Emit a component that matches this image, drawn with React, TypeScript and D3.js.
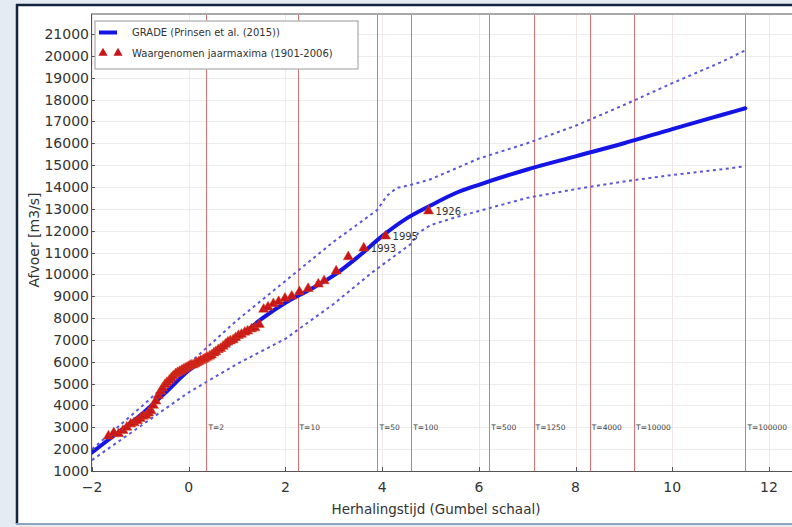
import React from "react";
import * as d3 from "d3";

// ---- Data ----
// GRADE curve (Gumbel reduced variate, discharge m3/s)
const gradeX = [-2, -1.5, -1, -0.5, 0, 0.5, 1, 1.5, 2, 2.5, 3, 3.5, 4, 4.5, 5, 5.5, 6, 7, 8, 9, 10, 11, 11.51];
const gradeY = [1850, 2700, 3550, 4550, 5600, 6350, 7050, 7950, 8700, 9300, 9950, 10800, 11750, 12550, 13150, 13700, 14100, 14800, 15400, 16000, 16650, 17280, 17600];
// Upper confidence bound
const upperX = [-2, -1, 0, 1, 2, 3, 3.5, 3.9, 4.1, 4.3, 4.6, 5, 6, 7, 8, 9, 10, 11, 11.51];
const upperY = [2000, 3900, 5900, 7900, 9700, 11500, 12300, 12950, 13600, 13950, 14100, 14350, 15300, 16000, 16800, 17750, 18750, 19700, 20250];
// Lower confidence bound
const lowerX = [-2, -1, 0, 0.5, 1, 2, 3, 3.8, 4.2, 4.6, 4.75, 5, 5.5, 6, 7, 8, 9, 10, 11, 11.51];
const lowerY = [1500, 3050, 4600, 5250, 5900, 7050, 8650, 10100, 10750, 11400, 11900, 12250, 12600, 12900, 13500, 13900, 14250, 14550, 14800, 14950];
// Observed annual maxima (1901-2006)
const obsX = [-1.66, -1.55, -1.45, -1.36, -1.28, -1.2, -1.13, -1.06, -1.0, -0.94, -0.88, -0.83, -0.78, -0.73, -0.68, -0.63, -0.58, -0.54, -0.49, -0.45, -0.4, -0.36, -0.32, -0.27, -0.23, -0.19, -0.15, -0.11, -0.07, -0.03, 0.01, 0.05, 0.09, 0.13, 0.17, 0.21, 0.25, 0.3, 0.34, 0.38, 0.43, 0.47, 0.52, 0.56, 0.61, 0.66, 0.71, 0.76, 0.81, 0.86, 0.92, 0.97, 1.03, 1.09, 1.16, 1.22, 1.3, 1.37, 1.46, 1.55, 1.64, 1.75, 1.86, 1.99, 2.13, 2.29, 2.47, 2.68, 2.8, 3.05, 3.3, 3.62, 4.07, 4.96];
const obsY = [2600, 2750, 2700, 2850, 3000, 3150, 3200, 3300, 3400, 3500, 3550, 3650, 3750, 4000, 4200, 4450, 4650, 4800, 4950, 5050, 5150, 5250, 5350, 5450, 5500, 5550, 5600, 5650, 5700, 5750, 5800, 5850, 5850, 5900, 5950, 6000, 6050, 6100, 6150, 6200, 6250, 6300, 6400, 6450, 6550, 6600, 6700, 6800, 6900, 6950, 7000, 7100, 7200, 7250, 7350, 7400, 7500, 7550, 7700, 8400, 8500, 8650, 8750, 8900, 9000, 9200, 9350, 9550, 9700, 10150, 10800, 11200, 11750, 12900];
const annotYears = ["1993", "1995", "1926"];
const annotIdx = [71, 72, 73];
// Return period lines
const returnLabels = ["T=2", "T=10", "T=50", "T=100", "T=500", "T=1250", "T=4000", "T=10000", "T=100000"];
const returnX = [0.367, 2.25, 3.902, 4.6, 6.214, 7.131, 8.294, 9.21, 11.513];
// Ticks
const xTicks = [-2, 0, 2, 4, 6, 8, 10, 12];
const yTicks = d3.range(1000, 21001, 1000);

const legendLabels = ["GRADE (Prinsen et al. (2015))", "Waargenomen jaarmaxima (1901-2006)"];

export default function App() {
  const W = 792, H = 527;
  const x = d3.scaleLinear().domain([-2, 12]).range([92, 769]);
  const y = d3.scaleLinear().domain([1000, 21000]).range([471, 34]);
  const plotL = 91, plotT = 14, plotB = 471, plotR = 820;
  const font = "DejaVu Sans, sans-serif";
  const snap = (v: number) => Math.round(v) + 0.5;

  const smooth = d3.line<[number, number]>().x(d => x(d[0])).y(d => y(d[1])).curve(d3.curveMonotoneX);
  const straight = d3.line<[number, number]>().x(d => x(d[0])).y(d => y(d[1])).curve(d3.curveLinear);
  const gradePts = gradeX.map((v, i) => [v, gradeY[i]] as [number, number]);
  const upperPts = upperX.map((v, i) => [v, upperY[i]] as [number, number]);
  const lowerPts = lowerX.map((v, i) => [v, lowerY[i]] as [number, number]);
  const tri = d3.symbol().type(d3.symbolTriangle).size(44)();
  const triLeg = d3.symbol().type(d3.symbolTriangle).size(36)();

  return (
    <div style={{ position: "absolute", left: 0, top: 0 }}>
      <svg width={W} height={H} style={{ display: "block" }} fontFamily={font}>
        <rect x={0} y={0} width={W} height={H} fill="#e4ebf2" />
        <rect x={16} y={4} width={790} height={520} fill="#ffffff" />
        <line x1={16} y1={5} x2={W} y2={5} stroke="#14233f" strokeWidth={2.5} />
        <line x1={17} y1={4} x2={17} y2={524} stroke="#14233f" strokeWidth={2.5} />
        <line x1={16} y1={524} x2={W} y2={524} stroke="#8fa5bf" strokeWidth={2} />
        <defs>
          <clipPath id="plotclip">
            <rect x={plotL} y={plotT} width={plotR - plotL} height={plotB - plotT} />
          </clipPath>
        </defs>
        {/* grid */}
        <g clipPath="url(#plotclip)">
          {yTicks.map(t => (
            <line key={"gy" + t} x1={plotL} x2={plotR} y1={snap(y(t))} y2={snap(y(t))} stroke="#ececec" strokeWidth={1} />
          ))}
          {xTicks.map(t => (
            <line key={"gx" + t} x1={snap(x(t))} x2={snap(x(t))} y1={plotT} y2={plotB} stroke="#f3e6e6" strokeWidth={1} />
          ))}
          {returnX.map((v, i) => (
            <g key={"rt" + i}>
              <line x1={snap(x(v))} x2={snap(x(v))} y1={plotT} y2={plotB} stroke="#e07272" strokeWidth={1} />
              <text x={x(v) + 2} y={y(3000) + 3} fontSize={7.5} fill="#444">{returnLabels[i]}</text>
            </g>
          ))}
          <path d={straight(upperPts) || ""} fill="none" stroke="#5b58d8" strokeWidth={2} strokeDasharray="3 3.5" />
          <path d={straight(lowerPts) || ""} fill="none" stroke="#5b58d8" strokeWidth={2} strokeDasharray="3 3.5" />
          <path d={smooth(gradePts) || ""} fill="none" stroke="#1414e6" strokeWidth={4} strokeLinejoin="round" strokeLinecap="round" />
          {obsX.map((v, i) => (
            <path key={"o" + i} d={tri || ""} transform={`translate(${x(v)},${y(obsY[i])})`} fill="#c8141a" stroke="#d8401a" strokeWidth={0.5} />
          ))}
          {annotIdx.map((idx, i) => (
            <text key={"an" + i} x={x(obsX[idx]) + 7} y={y(obsY[idx]) + 4} fontSize={10} fill="#333">{annotYears[i]}</text>
          ))}
        </g>
        {/* spines */}
        <line x1={plotL} x2={plotR} y1={plotT} y2={plotT} stroke="#a8a8a8" strokeWidth={2} />
        <line x1={plotL + 0.5} x2={plotL + 0.5} y1={plotT} y2={plotB} stroke="#555" strokeWidth={1} />
        <line x1={plotL} x2={plotR} y1={plotB + 0.5} y2={plotB + 0.5} stroke="#555" strokeWidth={1} />
        {/* y ticks */}
        {yTicks.map(t => (
          <g key={"yt" + t}>
            <line x1={plotL} x2={plotL + 4} y1={snap(y(t))} y2={snap(y(t))} stroke="#555" />
            <text x={plotL - 2} y={y(t)} dy="0.36em" textAnchor="end" fontSize={14} fill="#333">{t}</text>
          </g>
        ))}
        {xTicks.map(t => (
          <g key={"xt" + t}>
            <line x1={snap(x(t))} x2={snap(x(t))} y1={plotB} y2={plotB - 4} stroke="#555" />
            <text x={x(t)} y={492} textAnchor="middle" fontSize={14} fill="#333">{t < 0 ? "\u2212" + Math.abs(t) : t}</text>
          </g>
        ))}
        <text x={436} y={514} textAnchor="middle" fontSize={13.5} fill="#333">Herhalingstijd (Gumbel schaal)</text>
        <text transform="translate(39,240) rotate(-90)" textAnchor="middle" fontSize={14} fill="#333">Afvoer [m3/s]</text>
        {/* legend */}
        <rect x={95} y={21} width={263} height={48} fill="#fff" stroke="#aaa" strokeWidth={1.2} />
        <line x1={99} x2={117} y1={32.5} y2={32.5} stroke="#1414e6" strokeWidth={4} />
        <text x={132} y={36} fontSize={10} fill="#333">{legendLabels[0]}</text>
        <path d={triLeg || ""} transform="translate(103,53)" fill="#c8141a" />
        <path d={triLeg || ""} transform="translate(118,53)" fill="#c8141a" />
        <text x={132} y={57} fontSize={10} fill="#333">{legendLabels[1]}</text>
      </svg>
    </div>
  );
}
